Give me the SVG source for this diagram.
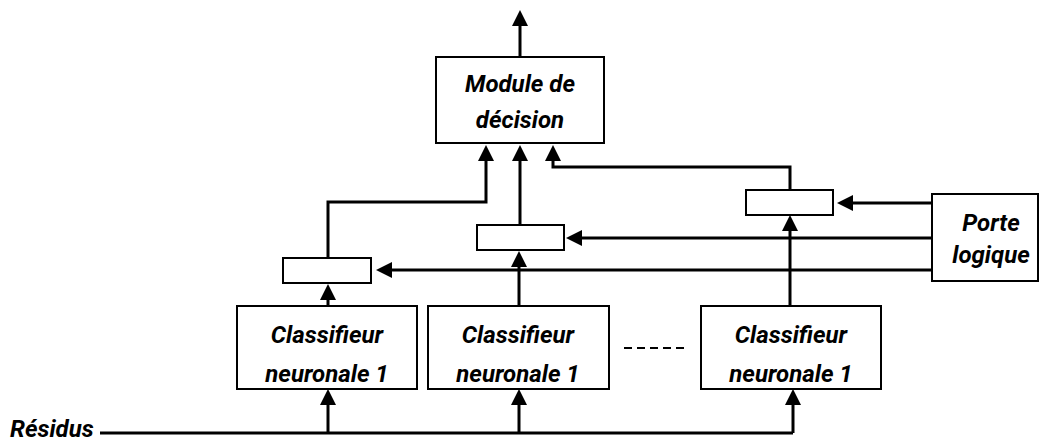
<svg xmlns="http://www.w3.org/2000/svg" width="1040" height="443" viewBox="0 0 1040 443">
  <style>
    .box { fill: #ffffff; stroke: #000000; stroke-width: 2; }
    .wire { fill: none; stroke: #000000; stroke-width: 3; }
    .arr { marker-end: url(#head); }
    .lbl { font-family: Roboto, "Liberation Sans", Arial, sans-serif; font-size: 24px; font-weight: bold; font-style: italic; fill: #000000; text-anchor: middle; }
  </style>
  <defs>
    <marker id="head" markerUnits="userSpaceOnUse" markerWidth="16" markerHeight="16" viewBox="0 0 16 16" refX="2" refY="8" orient="auto">
      <path d="M0,0 L16,8 L0,16 z" fill="#000000"/>
    </marker>
  </defs>

  <g id="connectors">
    <!-- decision output -->
    <path class="wire arr" d="M520,57 V24"/>
    <!-- gated outputs into decision module -->
    <path class="wire arr" d="M328,258 V202 H486 V159"/>
    <path class="wire arr" d="M520,225 V159"/>
    <path class="wire arr" d="M790,190 V167 H553 V159"/>
    <!-- logic gate control lines -->
    <path class="wire arr" d="M932,203 H851"/>
    <path class="wire arr" d="M932,238 H580"/>
    <path class="wire arr" d="M932,270 H390"/>
    <!-- classifiers to gates -->
    <path class="wire arr" d="M328,306 V298"/>
    <path class="wire arr" d="M519,306 V265"/>
    <path class="wire arr" d="M790,306 V229"/>
    <!-- residual bus -->
    <path class="wire" d="M100,433 H793"/>
    <path class="wire arr" d="M328,433 V403"/>
    <path class="wire arr" d="M519,433 V403"/>
    <path class="wire arr" d="M793,433 V403"/>
    <!-- ellipsis between classifiers -->
    <path d="M624,348 H688" stroke="#000000" stroke-width="2" stroke-dasharray="8,5"/>
  </g>

  <g id="decision">
    <rect class="box" x="436" y="57" width="168" height="86"/>
    <text class="lbl" x="520" y="92">Module de</text>
    <text class="lbl" x="520" y="128">décision</text>
  </g>

  <g id="gate1"><rect class="box" x="283" y="258" width="88" height="25"/></g>
  <g id="gate2"><rect class="box" x="477" y="225" width="87" height="25"/></g>
  <g id="gate3"><rect class="box" x="746" y="190" width="87" height="25"/></g>

  <g id="porte">
    <rect class="box" x="932" y="194" width="106" height="87"/>
    <text class="lbl" x="991" y="231">Porte</text>
    <text class="lbl" x="991" y="263">logique</text>
  </g>

  <g id="classifier1">
    <rect class="box" x="237" y="306" width="180" height="83"/>
    <text class="lbl" x="327" y="343">Classifieur</text>
    <text class="lbl" x="327" y="382">neuronale 1</text>
  </g>
  <g id="classifier2">
    <rect class="box" x="428" y="306" width="181" height="83"/>
    <text class="lbl" x="518" y="343">Classifieur</text>
    <text class="lbl" x="518" y="382">neuronale 1</text>
  </g>
  <g id="classifier3">
    <rect class="box" x="701" y="306" width="180" height="83"/>
    <text class="lbl" x="791" y="343">Classifieur</text>
    <text class="lbl" x="791" y="382">neuronale 1</text>
  </g>

  <g id="residus">
    <text class="lbl" x="10" y="437" style="text-anchor:start">Résidus</text>
  </g>
</svg>
